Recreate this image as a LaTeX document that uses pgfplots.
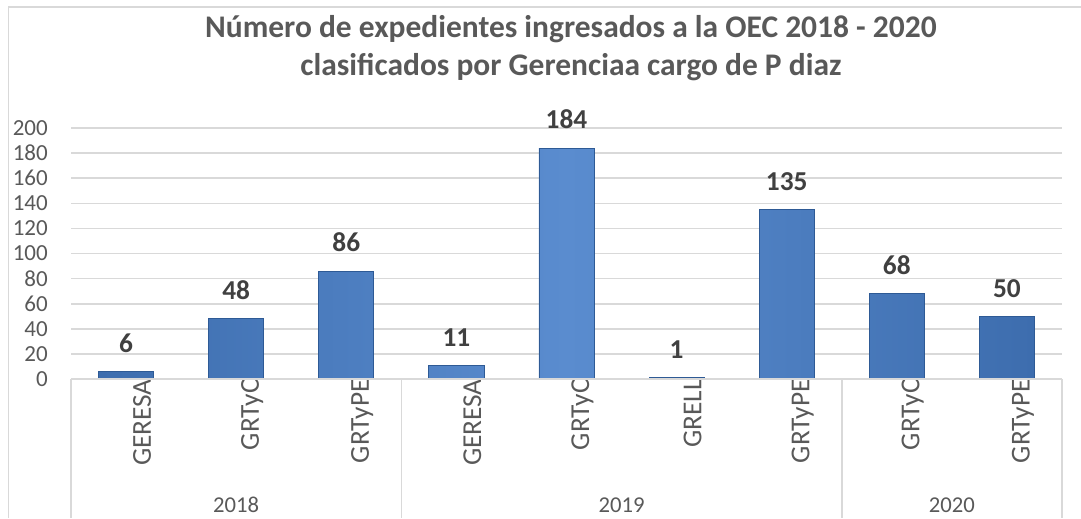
\documentclass[border=0pt]{standalone}
\usepackage{fontspec}
\setmainfont{Carlito}
\usepackage{pgfplots}
\pgfplotsset{compat=1.18}
\definecolor{txt}{HTML}{595959}
\definecolor{lbl}{HTML}{404040}
\definecolor{gridc}{HTML}{D9D9D9}
\definecolor{barmid}{HTML}{5A8CCF}
\definecolor{baredge}{HTML}{3D6DAE}
\definecolor{barline}{HTML}{2E5A95}
\begin{document}
\begin{tikzpicture}
\path[use as bounding box] (-53.25pt,-104.25pt) rectangle (757.5pt,284.25pt);
\draw[gridc, line width=1.1pt] (-46.9pt,-104.25pt) -- (-46.9pt,279pt) -- (757.5pt,279pt);
\begin{axis}[
  at={(0,0)}, anchor=south west,
  scale only axis,
  width=743.25pt, height=188.25pt,
  xmin=-0.5, xmax=8.5,
  ymin=0, ymax=200,
  ytick distance=20,
  xtick={0,...,8},
  xticklabels={GERESA,GRTyC,GRTyPE,GERESA,GRTyC,GRELL,GRTyPE,GRTyC,GRTyPE},
  axis line style={draw=none},
  major tick length=0pt,
  ymajorgrids, xmajorgrids=false,
  y grid style={draw=gridc, line width=1.2pt},
  /pgf/number format/assume math mode=true,
  yticklabel style={font=\fontsize{17.25pt}{20pt}\selectfont, text=txt, anchor=east, inner sep=0pt, xshift=-17.25pt},
  xticklabel style={font=\fontsize{20.5pt}{24pt}\selectfont, text=txt, rotate=90, anchor=east, inner sep=0pt, yshift=-12pt},
  title={Número de expedientes ingresados a la OEC 2018 - 2020\\clasificados por Gerenciaa cargo de P diaz},
  title style={font=\bfseries\fontsize{23.6pt}{28.5pt}\selectfont, text=txt, align=center, at={(axis description cs:0.5045,1.287)}, anchor=center},
  clip=false,
  nodes near coords,
  every node near coord/.append style={font=\bfseries\fontsize{20.5pt}{24pt}\selectfont, text=lbl, anchor=south, inner sep=0pt, yshift=13.9pt},
]
\addplot[ybar, bar width=0.5, draw=barline, line width=0.6pt, left color=baredge, right color=baredge, middle color=barmid] table[x=x, y=y] {
x y
0 6
1 48
2 86
3 11
4 184
5 1
6 135
7 68
8 50
};
\draw[gridc, line width=1.1pt] (axis cs:-0.5,0) -- ++(0pt,-104.25pt);
\draw[gridc, line width=1.1pt] (axis cs:2.5,0) -- ++(0pt,-104.25pt);
\draw[gridc, line width=1.1pt] (axis cs:6.5,0) -- ++(0pt,-104.25pt);
\draw[gridc, line width=1.1pt] (axis cs:8.5,0) -- ++(0pt,-104.25pt);
\draw[gridc, line width=1.1pt] (axis cs:-0.5,0) -- (axis cs:8.5,0);
\node[font=\fontsize{17pt}{20pt}\selectfont, text=txt] at ([yshift=-94.5pt]axis cs:1,0) {2018};
\node[font=\fontsize{17pt}{20pt}\selectfont, text=txt] at ([yshift=-94.5pt]axis cs:4.5,0) {2019};
\node[font=\fontsize{17pt}{20pt}\selectfont, text=txt] at ([yshift=-94.5pt]axis cs:7.5,0) {2020};
\end{axis}
\end{tikzpicture}
\end{document}
